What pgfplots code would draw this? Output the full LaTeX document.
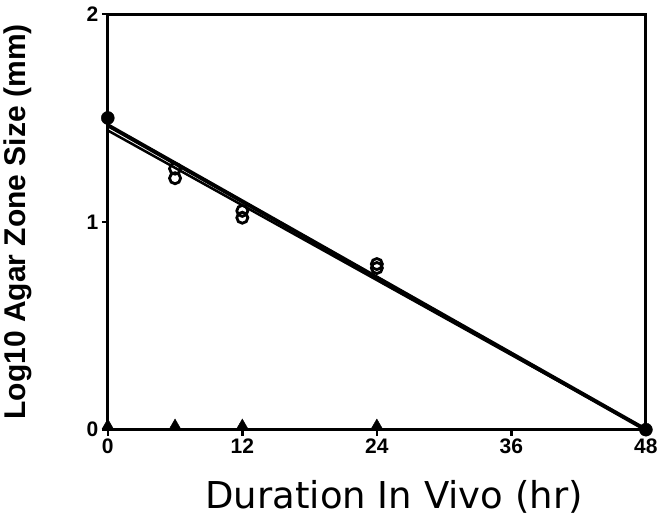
\documentclass[border=0pt]{standalone}
\usepackage{fontspec}
\setmainfont{Liberation Sans}
\newfontfamily\dejavu{DejaVu Sans}
\usepackage{pgfplots}
\pgfplotsset{compat=1.18}
\begin{document}
\begin{tikzpicture}
\begin{axis}[
  name=ax,
  scale only axis, width=536bp, height=414bp,
  xmin=0, xmax=48, ymin=0, ymax=2,
  xtick={0,12,24,36,48}, ytick={0,1,2},
  xtick pos=bottom, ytick pos=left,
  tick align=outside, major tick length=6bp,
  axis line style={line width=3bp},
  every tick/.style={black, line width=2.5bp},
  ticklabel style={font=\fontsize{21}{21}\selectfont\bfseries},
  /pgf/number format/assume math mode=true,
  xlabel={\dejavu\fontsize{37}{37}\selectfont Duration In Vivo (hr)},
  ylabel={\fontsize{30}{30}\selectfont\bfseries Log10 Agar Zone Size (mm)},
  every axis x label/.style={at={(axis description cs:0.532,-0.162)}, anchor=center},
  every axis y label/.style={at={(axis description cs:-0.168,0.5)}, rotate=90, anchor=center},
  clip=false,
]
\addplot[black, line width=4bp, no marks] coordinates {(0,1.465) (48,0)};
\addplot[black, line width=2.5bp, no marks] coordinates {(0,1.44) (48,0)};
\addplot[only marks, mark=o, mark size=5.5bp, mark options={line width=2.8bp, fill=white}] coordinates {
 (6,1.256) (6,1.21) (12,1.053) (12,1.02) (24,0.797) (24,0.778)};
\addplot[only marks, mark=*, mark size=6.5bp, black] coordinates {(0,1.5) (48,0)};
\addplot[only marks, mark=triangle*, mark size=6.5bp, black] coordinates {(0,0.02) (6,0.02) (12,0.02) (24,0.02)};
\end{axis}
\path (ax.south east) ++(24bp,0) (ax.north east) ++(0,14bp);
\end{tikzpicture}
\end{document}
